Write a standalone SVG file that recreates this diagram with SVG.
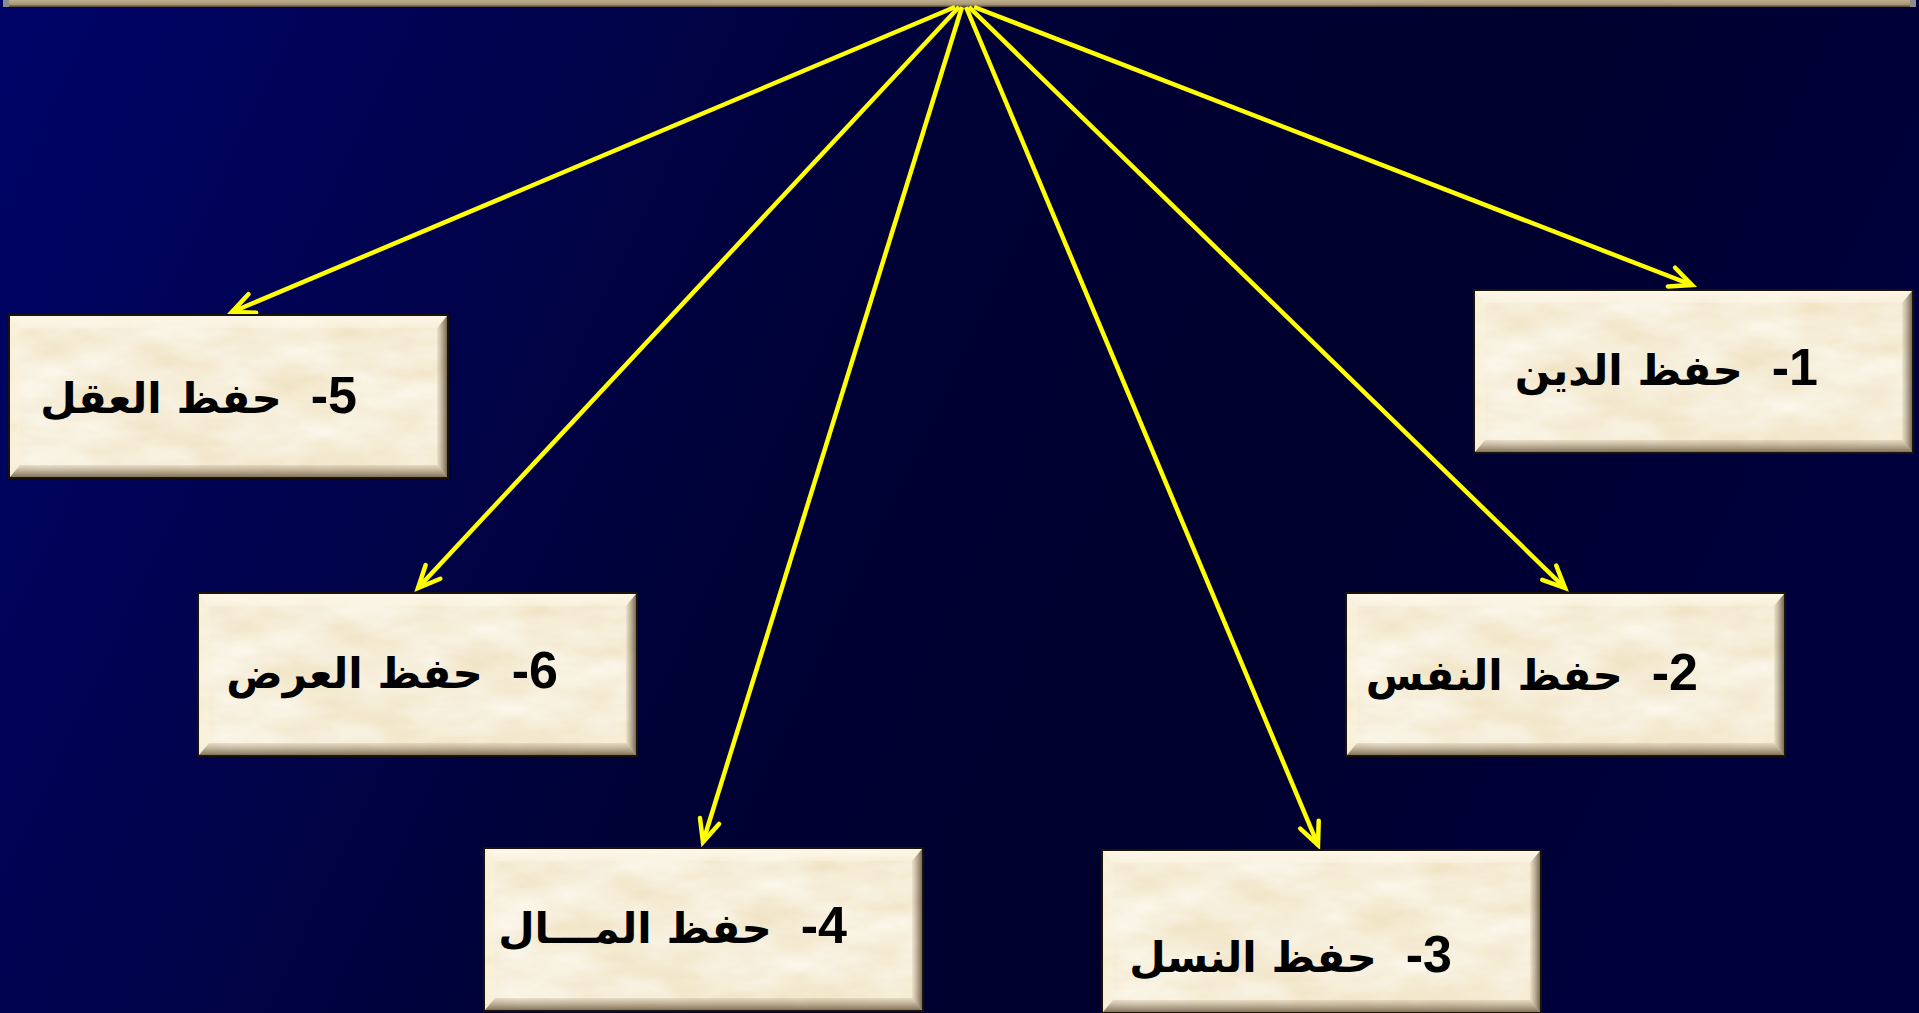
<svg xmlns="http://www.w3.org/2000/svg" xmlns:xlink="http://www.w3.org/1999/xlink" width="1919" height="1013" viewBox="0 0 1919 1013">
  <style>
    .lbl { font-family: "Liberation Sans", "DejaVu Sans", sans-serif; font-weight: bold; font-size: 52px; fill: #000; white-space: pre; }
    .ar { font-family: "DejaVu Sans", sans-serif; font-weight: bold; font-size: 42px; }
    .link { stroke: #ffff00; stroke-width: 4.5; fill: none; marker-end: url(#chev); }
  </style>
  <defs>
    <linearGradient id="sky" x1="0" y1="0" x2="1" y2="0.25">
      <stop offset="0" stop-color="#000468"/>
      <stop offset="0.5" stop-color="#000236"/>
      <stop offset="0.75" stop-color="#00002c"/>
      <stop offset="1" stop-color="#00003c"/>
    </linearGradient>
    <!-- mottled parchment fill -->
    <filter id="parch" x="0" y="0" width="1" height="1">
      <feTurbulence type="fractalNoise" baseFrequency="0.012 0.03" numOctaves="4" seed="7" result="n"/>
      <feColorMatrix in="n" type="matrix" values="0.14 0 0 0 0.85  0.26 0 0 0 0.72  0.46 0 0 0 0.46  0 0 0 0 1" result="c"/>
      <feComposite in="c" in2="SourceGraphic" operator="in"/>
    </filter>
    <linearGradient id="topHi" x1="0" y1="0" x2="0" y2="1">
      <stop offset="0" stop-color="#fff8ea" stop-opacity="0.85"/>
      <stop offset="1" stop-color="#fff8ea" stop-opacity="0.3"/>
    </linearGradient>
    <linearGradient id="botSh" x1="0" y1="0" x2="0" y2="1">
      <stop offset="0" stop-color="#8a7250" stop-opacity="0.15"/>
      <stop offset="1" stop-color="#5c4a30" stop-opacity="0.75"/>
    </linearGradient>
    <linearGradient id="rgtSh" x1="0" y1="0" x2="1" y2="0">
      <stop offset="0" stop-color="#8a7250" stop-opacity="0.1"/>
      <stop offset="1" stop-color="#4e3e28" stop-opacity="0.75"/>
    </linearGradient>
    <linearGradient id="barFill" x1="0" y1="0" x2="0" y2="1">
      <stop offset="0" stop-color="#c8b898"/>
      <stop offset="0.7" stop-color="#a89878"/>
      <stop offset="1" stop-color="#4a4030"/>
    </linearGradient>
    <!-- bevelled parchment tile, 441 x 165 -->
    <g id="tile">
      <rect x="0" y="0" width="441" height="165" fill="#1a1408"/>
      <rect x="2" y="2" width="437" height="161" fill="#000" filter="url(#parch)"/>
      <polygon points="2,2 439,2 429,14 12,14" fill="url(#topHi)"/>
      <polygon points="2,2 12,14 12,151 2,163" fill="#fff4dc" opacity="0.3"/>
      <polygon points="439,2 439,163 429,151 429,14" fill="url(#rgtSh)"/>
      <polygon points="2,163 439,163 429,151 12,151" fill="url(#botSh)"/>
    </g>
    <marker id="chev" viewBox="-30 -16 34 32" refX="0" refY="0" markerWidth="34" markerHeight="32" markerUnits="userSpaceOnUse" orient="auto" overflow="visible">
      <path d="M -22,-10 L 0,0 L -22,10" fill="none" stroke="#ffff00" stroke-width="4.5" stroke-linejoin="miter" stroke-linecap="round"/>
    </marker>
  </defs>

  <rect width="1919" height="1013" fill="url(#sky)"/>

  <!-- lower edge of the heading panel -->
  <g id="heading">
    <rect x="3" y="-2" width="1913" height="9" fill="url(#barFill)"/>
    <rect x="3" y="-2" width="6" height="9" fill="#8c8c8c"/>
    <rect x="1910" y="-2" width="6" height="9" fill="#8c8c8c"/>
  </g>

  <g id="connectors">
    <line class="link" x1="955" y1="7" x2="232" y2="312"/>
    <line class="link" x1="959" y1="7" x2="418" y2="588"/>
    <line class="link" x1="962" y1="7" x2="703" y2="842"/>
    <line class="link" x1="966" y1="7" x2="1318" y2="845"/>
    <line class="link" x1="969" y1="7" x2="1565" y2="588"/>
    <line class="link" x1="974" y1="7" x2="1692" y2="285"/>
  </g>

  <g id="node1">
    <use xlink:href="#tile" x="1473" y="289"/>
    <text class="lbl" x="1818" y="385" direction="rtl" text-anchor="start">1-  <tspan class="ar">حفظ الدين</tspan></text>
  </g>
  <g id="node2">
    <use xlink:href="#tile" x="1345" y="592"/>
    <text class="lbl" x="1698" y="690" direction="rtl" text-anchor="start">2-  <tspan class="ar">حفظ النفس</tspan></text>
  </g>
  <g id="node3">
    <use xlink:href="#tile" x="1101" y="849"/>
    <text class="lbl" x="1452" y="972" direction="rtl" text-anchor="start">3-  <tspan class="ar">حفظ النسل</tspan></text>
  </g>
  <g id="node4">
    <use xlink:href="#tile" x="483" y="847"/>
    <text class="lbl" x="847" y="943" direction="rtl" text-anchor="start">4-  <tspan class="ar">حفظ المـــال</tspan></text>
  </g>
  <g id="node5">
    <use xlink:href="#tile" x="8" y="314"/>
    <text class="lbl" x="357" y="413" direction="rtl" text-anchor="start">5-  <tspan class="ar">حفظ العقل</tspan></text>
  </g>
  <g id="node6">
    <use xlink:href="#tile" x="197" y="592"/>
    <text class="lbl" x="558" y="688" direction="rtl" text-anchor="start">6-  <tspan class="ar">حفظ العرض</tspan></text>
  </g>
</svg>
